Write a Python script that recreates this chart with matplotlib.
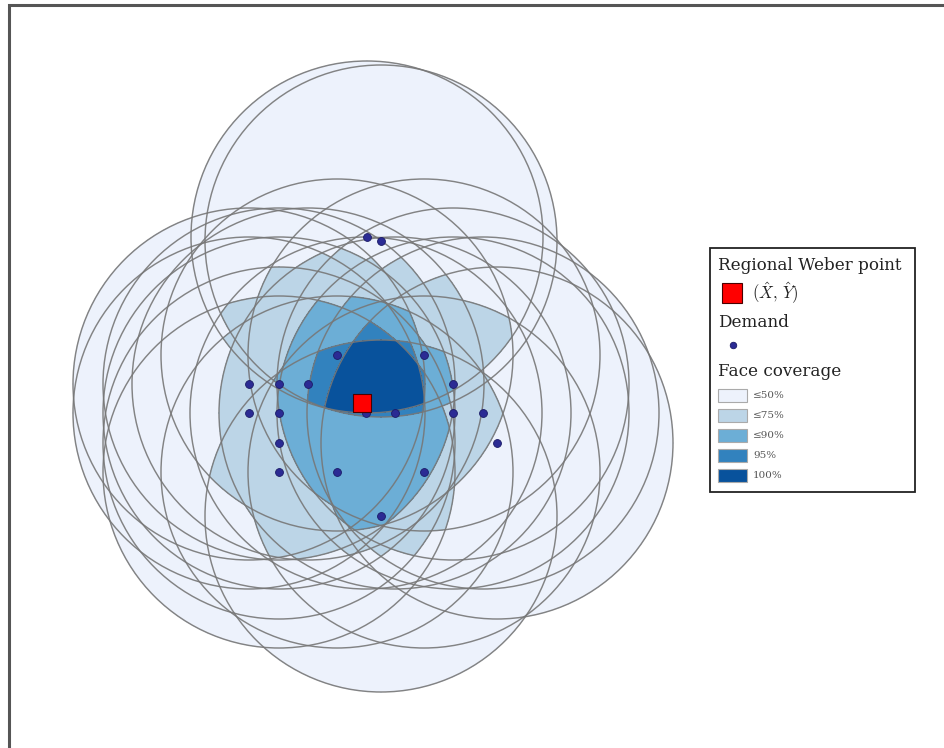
import numpy as np
import matplotlib
matplotlib.use("Agg")
import matplotlib.pyplot as plt
from matplotlib.patches import Circle, Rectangle
from matplotlib.colors import ListedColormap, BoundaryNorm

plt.rcParams["mathtext.fontset"] = "cm"

# ---------------- data ----------------
demand_x = [367, 381, 337, 424, 249, 279, 308, 453, 249, 279,
            366, 395, 453, 483, 279, 497, 279, 337, 424, 381]
demand_y = [237, 241, 355, 355, 384, 384, 384, 384, 413, 413,
            413, 413, 413, 413, 443, 443, 472, 472, 472, 516]
coverage_radius = 176
weber_x, weber_y = 362, 403

coverage_labels = ["\u226450%", "\u226475%", "\u226490%", "95%", "100%"]
coverage_bounds = [0.5, 10.5, 15.5, 18.5, 19.5, 20.5]   # counts of 20 circles
coverage_colors = ["#edf2fc", "#bcd5e7", "#6caed6", "#3282be", "#08529c"]

# ---------------- figure ----------------
W, H = 945, 748
fig = plt.figure(figsize=(W / 100, H / 100), dpi=100)
ax = fig.add_axes([0, 0, 1, 1])
ax.set_xlim(0, W)
ax.set_ylim(H, 0)
ax.axis("off")

dx = np.array(demand_x, float)
dy = np.array(demand_y, float)
gx = np.linspace(40, 720, 1361)
gy = np.linspace(30, 730, 1401)
GX, GY = np.meshgrid(gx, gy)
count = np.zeros_like(GX)
for cx, cy in zip(dx, dy):
    count += ((GX - cx) ** 2 + (GY - cy) ** 2 <= coverage_radius ** 2)

cmap = ListedColormap(coverage_colors)
norm = BoundaryNorm(coverage_bounds, cmap.N)
ax.contourf(GX, GY, count, levels=coverage_bounds, cmap=cmap, norm=norm, zorder=1)

for cx, cy in zip(dx, dy):
    ax.add_patch(Circle((cx, cy), coverage_radius, fill=False,
                        edgecolor="#777777", lw=1.05, alpha=0.9, zorder=2))

ax.scatter(dx, dy, s=32, color="#2b2b94", edgecolor="#1a1a66", lw=0.6, zorder=4)
ax.scatter([weber_x], [weber_y], s=170, marker="s", color="#ff0000",
           edgecolor="#4a0000", lw=0.8, zorder=5)

# outer frame
fig.patches.append(Rectangle((9 / W, -0.05), 1.2, 1 - 5 / H + 0.05,
                             transform=fig.transFigure, fill=False,
                             edgecolor="#555555", lw=2.2, zorder=10))

# ---------------- legend (manual) ----------------
serif = "DejaVu Serif"
ax.add_patch(Rectangle((710, 248), 205, 244, facecolor="white",
                       edgecolor="#222222", lw=1.3, zorder=6))
ax.text(718, 265, "Regional Weber point", fontsize=12.1, family=serif,
        color="#222222", va="center", ha="left", zorder=7)
ax.add_patch(Rectangle((722, 283), 20, 20, facecolor="#ff0000",
                       edgecolor="#4a0000", lw=0.8, zorder=7))
ax.text(752, 293, r"$(\hat{X},\,\hat{Y})$", fontsize=12, color="#222222",
        va="center", ha="left", zorder=7)
ax.text(718, 322, "Demand", fontsize=12.1, family=serif, color="#222222",
        va="center", ha="left", zorder=7)
ax.scatter([733], [345], s=22, color="#2b2b94", edgecolor="#1a1a66",
           lw=0.6, zorder=7)
ax.text(718, 371, "Face coverage", fontsize=12.1, family=serif,
        color="#222222", va="center", ha="left", zorder=7)
for i, (lab, col) in enumerate(zip(coverage_labels, coverage_colors)):
    y0 = 389 + i * 20
    ax.add_patch(Rectangle((718, y0), 29, 13, facecolor=col,
                           edgecolor="#aaaaaa", lw=0.8, zorder=7))
    ax.text(753, y0 + 6.5, lab, fontsize=7.5, family=serif, color="#555555",
            va="center", ha="left", zorder=7)

fig.savefig("out.png", dpi=100)
